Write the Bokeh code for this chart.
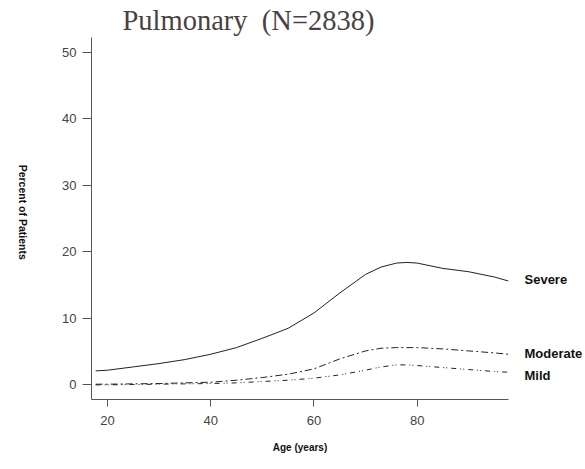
import math
from bokeh.plotting import figure
from bokeh.models import FixedTicker, Range1d, LinearAxis
from bokeh.embed import file_html
from bokeh.resources import INLINE

# Smoothed percent of patients by age, per severity grade
age = [17.7, 20, 25, 30, 35, 40, 45, 50, 55, 60, 65, 70, 73, 76, 78, 80, 85, 90, 95, 97.7]
severe = [2.1, 2.2, 2.7, 3.2, 3.8, 4.6, 5.6, 7.0, 8.5, 10.8, 13.8, 16.6, 17.7, 18.3, 18.4, 18.3, 17.5, 17.0, 16.2, 15.6]
moderate = [0.1, 0.1, 0.15, 0.2, 0.3, 0.4, 0.7, 1.1, 1.6, 2.4, 3.9, 5.1, 5.5, 5.6, 5.6, 5.6, 5.4, 5.1, 4.8, 4.6]
mild = [0.0, 0.0, 0.05, 0.1, 0.15, 0.2, 0.3, 0.5, 0.7, 1.0, 1.5, 2.2, 2.7, 3.0, 3.0, 2.9, 2.6, 2.3, 2.0, 1.9]

series_names = ["Severe", "Moderate", "Mild"]
x_ticks = [20, 40, 60, 80]
y_ticks = [0, 10, 20, 30, 40, 50]

# non-breaking space keeps the double gap in SVG text
title_text = "Pulmonary\u00a0 (N=2838)"
x_label = "Age (years)"
y_label = "Percent of Patients"

p = figure(width=585, height=469, output_backend="svg", toolbar_location=None,
           title=title_text, x_range=Range1d(16.9, 97.7), y_range=Range1d(-2.2, 52.2),
           min_border_left=91, min_border_right=77, min_border_top=37, min_border_bottom=70)
p.outline_line_color = None
p.background_fill_color = "white"
p.border_fill_color = "white"
p.xgrid.visible = False
p.ygrid.visible = False

p.title.align = "left"
p.title.offset = 31
p.title.standoff = 4
p.title.text_font = "Liberation Serif"
p.title.text_font_style = "normal"
p.title.text_font_size = "28.5px"
p.title.text_color = "#4a4242"

for ax in (p.xaxis, p.yaxis):
    ax.axis_line_color = "#555555"
    ax.axis_line_width = 1
    ax.major_tick_line_color = "#555555"
    ax.major_tick_in = 0
    ax.minor_tick_line_color = None
    ax.major_label_text_font = "Liberation Sans"
    ax.major_label_text_font_size = "13px"
    ax.major_label_text_color = "#444444"
    ax.axis_label_text_font = "Liberation Sans"
    ax.axis_label_text_font_style = "bold"
    ax.axis_label_text_color = "#111111"
p.xaxis.ticker = FixedTicker(ticks=x_ticks)
p.yaxis.ticker = FixedTicker(ticks=y_ticks)
p.xaxis.major_tick_out = 7
p.yaxis.major_tick_out = 9
p.xaxis.major_label_standoff = 9
p.yaxis.major_label_standoff = 6
p.xaxis.axis_label = x_label
p.xaxis.axis_label_text_font_size = "10px"
p.xaxis.axis_label_standoff = 14


def text_axis(levels, labels, side, standoff, size, orientation="horizontal"):
    """An axis with no line or ticks, used only to place bold text beside the frame."""
    ax = LinearAxis(ticker=FixedTicker(ticks=levels),
                    major_label_overrides=dict(zip(levels, labels)))
    ax.axis_line_color = None
    ax.major_tick_line_color = None
    ax.minor_tick_line_color = None
    ax.major_tick_out = 0
    ax.major_tick_in = 0
    ax.major_label_standoff = standoff
    ax.major_label_orientation = orientation
    ax.major_label_text_font = "Liberation Sans"
    ax.major_label_text_font_style = "bold"
    ax.major_label_text_font_size = size
    ax.major_label_text_color = "#111111"
    p.add_layout(ax, side)
    return ax


# Vertical y title, reading top to bottom
text_axis([18.8], [y_label], "left", 37, "10.5px", orientation=-math.pi / 2)

line_color = "#222222"
p.line(age, severe, line_color=line_color, line_width=1)
p.line(age, moderate, line_color=line_color, line_width=1, line_dash="7 3 2 3")
p.line(age, mild, line_color=line_color, line_width=1, line_dash="5 4 1 2 1 4")

# Series names level with the curve ends
text_axis([15.8, 4.65, 1.35], series_names, "right", 16, "13px")

open("out.html", "w").write(file_html(p, INLINE))
